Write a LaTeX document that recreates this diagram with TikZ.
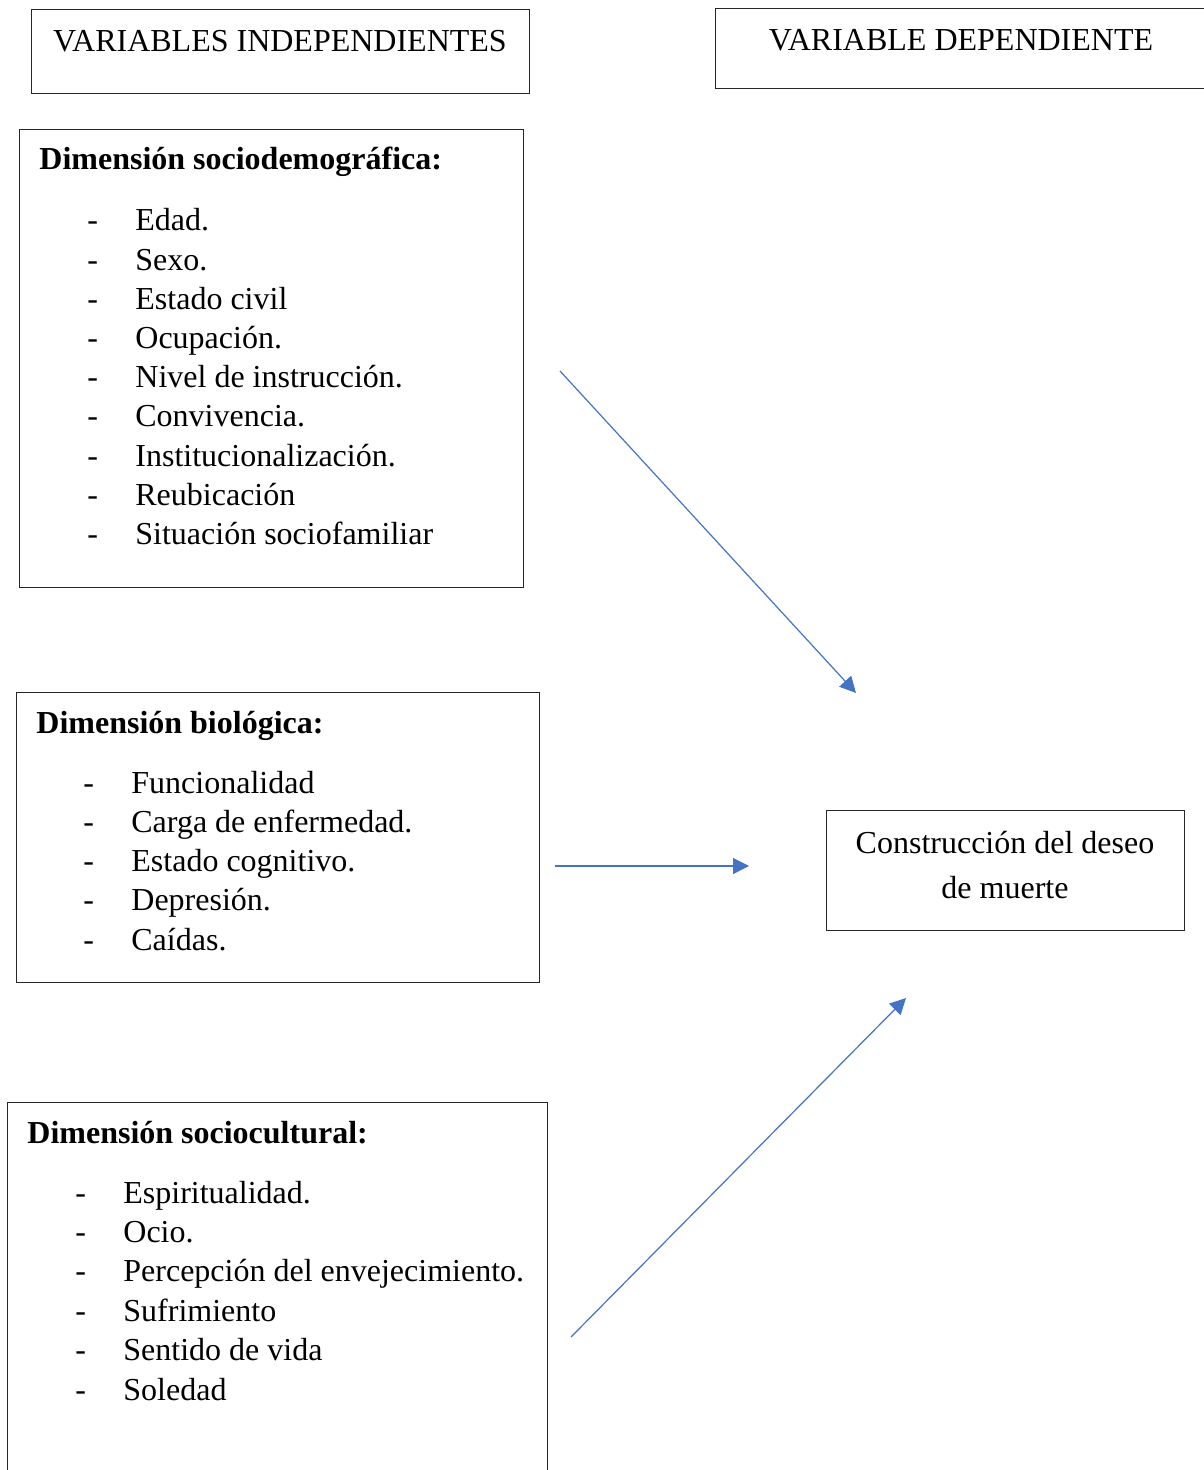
\documentclass[tikz,border=0pt]{standalone}
\usepackage{fontspec}
\setmainfont{Liberation Serif}
\usepackage{xcolor}
\definecolor{ColArrow}{RGB}{68,114,196}
\usetikzlibrary{arrows.meta}
\tikzstyle{Box}=[draw=black!85,line width=0.65pt,inner sep=0pt,anchor=north west]
\tikzstyle{Txt}=[font=\fontsize{16}{19.5}\selectfont,inner sep=0pt,anchor=base west]
\tikzstyle{TxtC}=[Txt,anchor=base]
\tikzstyle{Title}=[Txt,font=\fontsize{16}{19.5}\selectfont\bfseries]
\tikzstyle{Edge}=[draw=ColArrow,line width=0.6pt,-{Triangle[length=8pt,width=8pt]}]

\begin{document}
\begin{tikzpicture}[x=0.5pt,y=-0.5pt]
        \useasboundingbox(0,0)rectangle(1203,1470);
        % headers
        \node[Box,minimum width=249pt,minimum height=42pt](indep)at(31,9){};
        \node[TxtC](indepT)at(280,52){VARIABLES INDEPENDIENTES};
        \node[Box,minimum width=250pt,minimum height=40pt](dep)at(715,8){};
        \node[TxtC](depT)at(961,51){VARIABLE DEPENDIENTE};
        % dimension boxes
        \node[Box,minimum width=252pt,minimum height=229pt](socio)at(19,129){};
        \node[Title](socioT)at(39,170){Dimensión sociodemográfica:};
        \foreach \t[count=\i] in {Edad.,Sexo.,Estado civil,Ocupación.,
            Nivel de instrucción.,Convivencia.,Institucionalización.,
            Reubicación,Situación sociofamiliar}{
            \node[Txt](socioD\i)at(87,{231+39.2*(\i-1)}){-};
            \node[Txt](socio\i)at(135,{231+39.2*(\i-1)}){\t};
        }
        \node[Box,minimum width=261.5pt,minimum height=145pt](bio)at(16,692){};
        \node[Title](bioT)at(36,733){Dimensión biológica:};
        \foreach \t[count=\i] in {Funcionalidad,Carga de enfermedad.,
            Estado cognitivo.,Depresión.,Caídas.}{
            \node[Txt](bioD\i)at(83,{793+39.3*(\i-1)}){-};
            \node[Txt](bio\i)at(131,{793+39.3*(\i-1)}){\t};
        }
        \node[Box,minimum width=270pt,minimum height=200pt](cult)at(7,1102){};
        \node[Title](cultT)at(27,1143){Dimensión sociocultural:};
        \foreach \t[count=\i] in {Espiritualidad.,Ocio.,
            Percepción del envejecimiento.,Sufrimiento,Sentido de vida,Soledad}{
            \node[Txt](cultD\i)at(75,{1203+39.4*(\i-1)}){-};
            \node[Txt](cult\i)at(123,{1203+39.4*(\i-1)}){\t};
        }
        % dependent variable
        \node[Box,minimum width=179pt,minimum height=60pt](deseo)at(826,810){};
        \node[TxtC](deseoA)at(1005,853){Construcción del deseo};
        \node[TxtC](deseoB)at(1005,898){de muerte};
        % arrows
        \coordinate(a1)at(560,371);
        \coordinate(b1)at(856,693);
        \coordinate(a2)at(555,866);
        \coordinate(b2)at(749,866);
        \coordinate(a3)at(571,1337);
        \coordinate(b3)at(906,998);
        \draw[Edge](a1)--(b1);
        \draw[Edge](a2)--(b2);
        \draw[Edge](a3)--(b3);
    \end{tikzpicture}
\end{document}
